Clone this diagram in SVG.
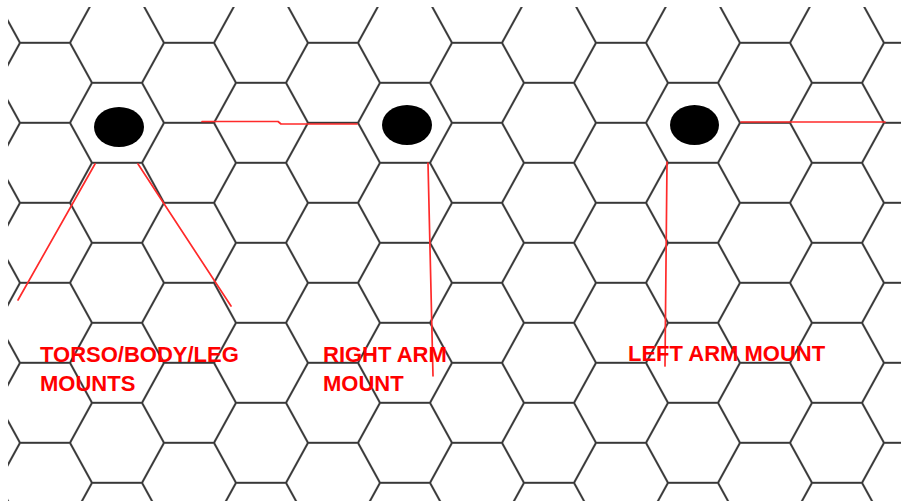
<svg xmlns="http://www.w3.org/2000/svg" width="901" height="501" viewBox="0 0 901 501">
  <style>
    .hex { fill: none; stroke: #383838; stroke-width: 2; }
    .red { fill: none; stroke: #ff2a2a; stroke-width: 1.7; stroke-linecap: round; stroke-linejoin: round; }
    .lbl { font-family: "Liberation Sans", Arial, sans-serif; font-weight: bold; font-size: 22px; fill: #ff0000; }
  </style>
  <defs>
    <pattern id="hexgrid" patternUnits="userSpaceOnUse" x="45" y="42.8" width="144" height="80">
      <path class="hex" d="M0,0 H25 L47,40 L25,80 H0 M144,0 H119 L97,40 L119,80 H144 M47,40 H97"/>
    </pattern>
  </defs>
  <rect width="901" height="501" fill="#ffffff"/>
  <g id="grid">
    <rect x="8" y="7" width="893" height="494" fill="url(#hexgrid)"/>
  </g>
  <g id="mount-torso">
    <ellipse cx="119" cy="127" rx="25" ry="20" fill="#000000"/>
  </g>
  <g id="mount-right-arm">
    <ellipse cx="407" cy="125" rx="25" ry="20" fill="#000000"/>
  </g>
  <g id="mount-left-arm">
    <ellipse cx="694.5" cy="125" rx="24.5" ry="20" fill="#000000"/>
  </g>
  <g id="connectors">
    <polyline class="red" points="202,121.5 278,121.5 281,124 357,124"/>
    <line class="red" x1="741" y1="122" x2="885" y2="122"/>
    <line class="red" x1="95" y1="164" x2="18" y2="300"/>
    <line class="red" x1="138" y1="164" x2="231" y2="306"/>
    <line class="red" x1="428" y1="163" x2="433" y2="376"/>
    <line class="red" x1="667" y1="162" x2="665" y2="366"/>
  </g>
  <g id="labels">
    <text class="lbl" x="40" y="362">TORSO/BODY/LEG</text>
    <text class="lbl" x="40" y="391">MOUNTS</text>
    <text class="lbl" x="323" y="362">RIGHT ARM</text>
    <text class="lbl" x="323" y="391">MOUNT</text>
    <text class="lbl" x="628" y="361">LEFT ARM MOUNT</text>
  </g>
</svg>
